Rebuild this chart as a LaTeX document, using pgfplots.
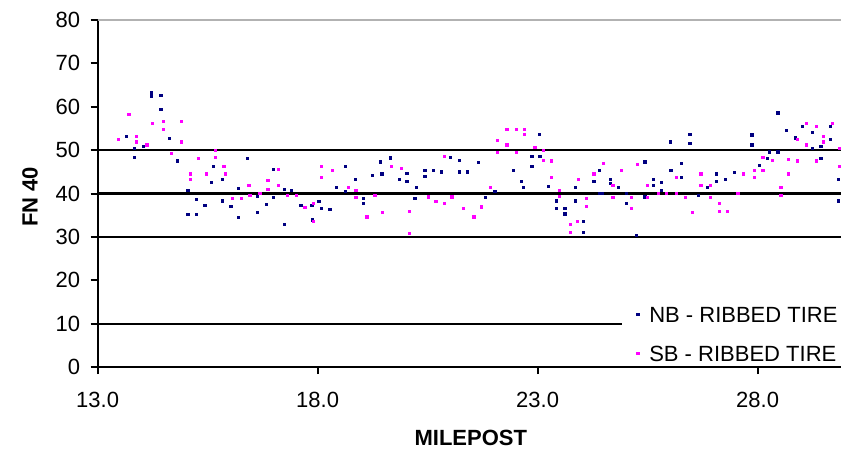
\documentclass[border=0pt]{standalone}
\usepackage{pgfplots}
\pgfplotsset{compat=1.18}
\usepackage{fontspec}
\setmainfont{Liberation Sans}
\definecolor{nbblue}{RGB}{0,0,128}
\definecolor{sbmag}{RGB}{255,0,255}
\begin{document}
\begin{tikzpicture}
\useasboundingbox (-48.8pt,-42pt) rectangle (371.7pt,183.5pt);
\begin{axis}[
  at={(0,0)}, anchor=south west,
  scale only axis, width=371.7pt, height=173.5pt,
  xmin=13, xmax=29.895, ymin=0, ymax=80,
  axis lines*=left,
  axis line style={black, line width=1pt},
  xtick={13,18,23,28}, ytick={0,10,...,80},
  xticklabel={\pgfmathprintnumber[fixed,fixed zerofill,precision=1]{\tick}},
  /pgf/number format/assume math mode=true,
  tick align=outside, major tick length=3.5pt,
  tick style={black, line width=1pt},
  every tick label/.append style={font=\fontsize{11}{13}\selectfont, text=black},
  yticklabel style={anchor=east, inner sep=0pt, xshift=-5pt},
  xticklabel style={anchor=center, inner sep=0pt, yshift=-13pt},
  xlabel={\bfseries MILEPOST},
  ylabel={\bfseries FN 40},
  label style={font=\fontsize{11}{13}\selectfont},
  xlabel style={at={(axis description cs:0.502,-0.2046)}, anchor=center},
  ylabel style={at={(axis description cs:-0.0909,0.49)}, anchor=center},
  clip=false,
  legend style={draw=none, fill=white, at={(axis cs:24.92,0.7)}, anchor=south west,
    font=\fontsize{11}{13}\selectfont, row sep=11.6pt, column sep=0pt, inner sep=1pt,
    nodes={inner sep=0pt, text height=7.9pt, text depth=0pt}},
  legend cell align=left,
  legend image code/.code={\path (0pt,0pt) (12pt,0pt); \draw[mark repeat=2,mark phase=2,#1] plot coordinates {(0pt,0pt)(6.5pt,0pt)(12pt,0pt)};},
]
\addplot[black, line width=1.1pt, forget plot] coordinates {(13,50)(29.895,50)};
\addplot[black, line width=1.1pt, forget plot] coordinates {(13,40)(29.895,40)};
\addplot[black, line width=1.1pt, forget plot] coordinates {(13,30)(29.895,30)};
\addplot[black, line width=1.1pt, forget plot] coordinates {(13,10)(24.92,10)};
\addplot[gray!60, line width=1pt, forget plot] coordinates {(13,80)(29.895,80)};
\addplot[only marks, mark=square*, mark size=0.55pt, color=nbblue] coordinates {
(13.65,53.1)(13.83,50.4)(13.83,48.3)(14.04,50.9)(14.23,63.2)(14.23,62.3)(14.44,62.7)(14.44,59.4)
(14.63,52.7)(14.81,47.5)(15.05,40.8)(15.05,35.2)(15.24,38.6)(15.24,35.2)(15.44,37.3)(15.59,42.6)
(15.63,46.3)(15.84,43.2)(15.84,38.3)(16.03,37.0)(16.20,41.2)(16.20,34.4)(16.41,48.1)(16.63,39.3)
(16.63,35.6)(16.84,37.5)(16.99,45.6)(16.99,39.1)(17.24,40.9)(17.24,32.9)(17.41,40.8)(17.62,37.3)
(17.87,37.3)(17.88,33.9)(18.03,38.2)(18.09,36.6)(18.28,36.3)(18.43,41.4)(18.64,46.3)(18.64,40.4)
(18.85,43.2)(19.04,38.9)(19.04,37.7)(19.25,44.2)(19.43,47.3)(19.46,44.5)(19.66,48.2)(19.86,43.2)
(20.03,44.6)(20.03,42.7)(20.21,38.9)(20.24,41.4)(20.44,45.4)(20.44,44.0)(20.63,45.4)(20.82,45.0)
(21.01,48.3)(21.22,47.7)(21.22,45.0)(21.40,45.0)(21.65,47.1)(21.82,39.1)(22.03,40.4)(22.45,45.4)
(22.64,42.7)(22.67,41.4)(22.87,48.5)(22.87,46.3)(23.04,53.7)(23.05,48.5)(23.24,41.6)(23.43,38.3)
(23.43,36.6)(23.62,36.6)(23.62,35.3)(23.85,41.4)(23.85,38.3)(24.04,33.5)(24.04,31.0)(24.28,42.7)
(24.40,45.4)(24.40,40.0)(24.46,40.0)(24.65,43.2)(24.65,42.3)(24.83,41.4)(25.02,40.0)(25.02,37.7)
(25.25,30.4)(25.44,47.3)(25.44,39.2)(25.63,43.2)(25.63,41.9)(25.82,42.5)(25.82,40.8)(26.01,51.9)
(26.03,45.4)(26.26,46.9)(26.27,43.8)(26.46,53.7)(26.46,51.5)(26.65,39.6)(26.86,41.4)(27.07,44.5)
(27.07,42.7)(27.27,43.2)(27.47,44.8)(27.87,53.5)(27.87,51.2)(28.04,46.5)(28.23,48.1)(28.27,49.6)
(28.46,49.6)(28.46,58.6)(28.65,54.6)(28.86,52.8)(29.01,55.5)(29.25,54.0)(29.25,50.4)(29.44,50.9)
(29.44,48.1)(29.65,52.4)(29.65,55.5)(29.84,43.2)(29.84,38.3)
};
\addlegendentry{NB - RIBBED TIRE}
\addplot[only marks, mark=square*, mark size=0.55pt, color=sbmag] coordinates {
(13.47,52.4)(13.71,58.2)(13.89,53.1)(13.89,51.9)(14.12,51.2)(14.25,56.2)(14.49,56.7)(14.49,54.8)
(14.68,49.2)(14.90,56.7)(14.90,51.9)(15.10,44.5)(15.10,43.3)(15.29,48.1)(15.48,44.5)(15.67,50.0)
(15.67,48.4)(15.87,46.3)(15.90,44.5)(16.06,38.9)(16.27,38.9)(16.44,41.9)(16.46,39.6)(16.69,40.1)
(16.87,43.1)(16.87,40.9)(17.11,45.6)(17.11,41.9)(17.32,39.6)(17.52,39.6)(17.71,36.8)(17.90,37.8)
(17.90,33.5)(18.09,46.3)(18.09,43.8)(18.33,45.4)(18.70,41.4)(18.87,40.8)(18.87,39.1)(19.12,34.6)
(19.30,39.6)(19.48,35.6)(19.68,46.3)(19.91,45.8)(20.08,35.9)(20.08,30.8)(20.52,39.2)(20.69,38.1)
(20.88,37.7)(20.88,48.5)(21.05,39.2)(21.31,36.6)(21.55,34.6)(21.73,36.9)(21.92,41.4)(22.09,52.3)
(22.09,49.4)(22.30,54.8)(22.30,51.2)(22.52,54.8)(22.52,49.4)(22.70,54.8)(22.70,53.6)(22.94,50.7)
(23.13,50.0)(23.13,47.7)(23.32,47.5)(23.32,43.8)(23.49,40.8)(23.49,39.4)(23.74,32.9)(23.74,31.0)
(23.91,33.5)(23.92,43.2)(24.10,38.9)(24.10,37.1)(24.28,44.5)(24.49,46.9)(24.71,41.9)(24.71,39.1)
(24.90,45.4)(25.14,39.1)(25.14,36.6)(25.27,46.7)(25.50,41.9)(25.50,39.1)(25.74,40.0)(25.92,40.0)
(26.15,43.8)(26.15,40.0)(26.35,39.1)(26.52,35.6)(26.71,44.5)(26.71,41.9)(26.92,41.9)(26.92,39.1)
(27.13,37.7)(27.13,35.9)(27.32,35.9)(27.55,40.0)(27.68,44.5)(27.93,45.4)(27.93,43.8)(28.12,48.3)
(28.12,45.4)(28.34,47.7)(28.53,41.4)(28.53,39.6)(28.70,47.8)(28.70,44.5)(28.90,47.5)(28.90,52.4)
(29.10,56.2)(29.10,51.2)(29.33,55.5)(29.33,47.5)(29.49,53.1)(29.49,51.9)(29.70,56.2)(29.86,50.4)
(29.86,46.3)
};
\addlegendentry{SB - RIBBED TIRE}
\end{axis}
\end{tikzpicture}
\end{document}
